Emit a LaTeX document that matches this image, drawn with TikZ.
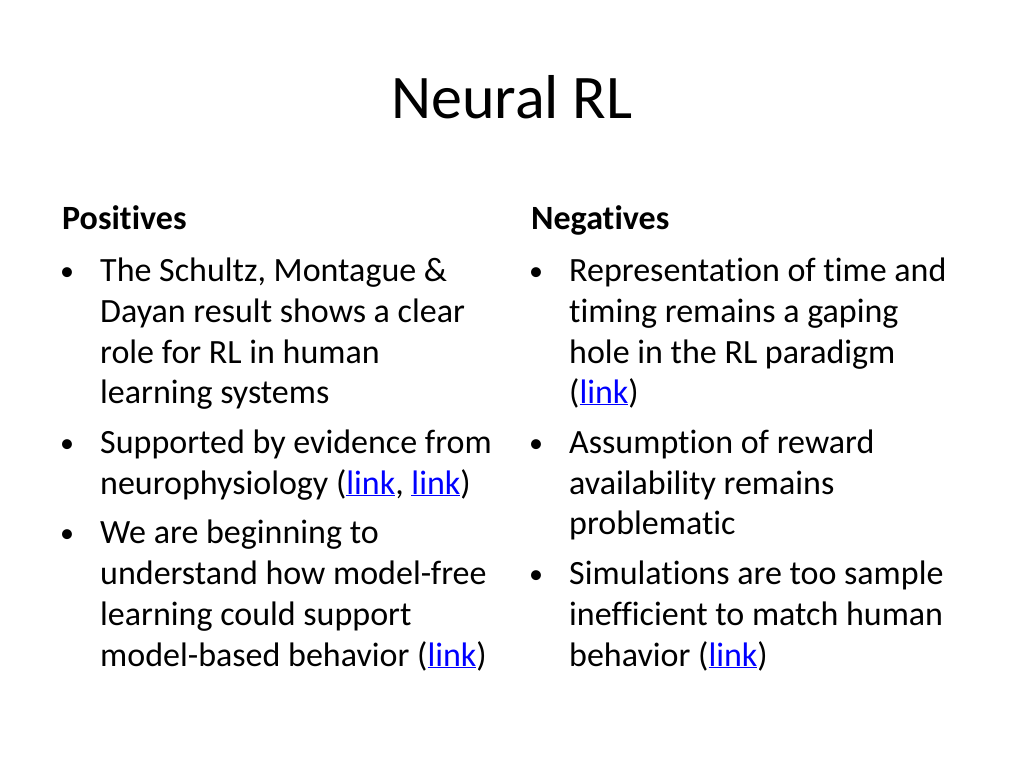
\documentclass[tikz,border=0pt]{standalone}
\usepackage{fontspec}
\setmainfont{Carlito}[RawFeature={-liga}]
\definecolor{linkc}{RGB}{0,0,255}
\newcommand{\lk}{{\color{linkc}\underline{link}}}
\begin{document}
\begin{tikzpicture}[x=1pt,y=-1pt,
  ln/.style={anchor=base west,inner sep=0pt,font=\fontsize{34}{41}\selectfont},
  hd/.style={anchor=base west,inner sep=0pt,font=\fontsize{34}{41}\selectfont\bfseries},
  bl/.style={anchor=base west,inner sep=0pt,font=\fontsize{28}{41}\selectfont}]
\useasboundingbox (0,0) rectangle (1024,768);
\node[anchor=base,inner sep=0pt,font=\fontsize{62}{70}\selectfont] (title) at (512,118) {Neural RL};
\node[hd] (pos) at (62,229) {Positives};
\node[hd] (neg) at (531,229) {Negatives};
% left
\node[bl] (b1) at (60,280) {•};
\node[bl] (b2) at (60,452) {•};
\node[bl] (b3) at (60,542) {•};
\node[ln] (l1) at (100,281) {The Schultz, Montague \&};
\node[ln] (l2) at (100,322) {Dayan result shows a clear};
\node[ln] (l3) at (100,363) {role for RL in human};
\node[ln] (l4) at (100,403) {learning systems};
\node[ln] (l5) at (100,453) {Supported by evidence from};
\node[ln] (l6) at (100,494) {neurophysiology (\lk, \lk)};
\node[ln] (l7) at (100,543) {We are beginning to};
\node[ln] (l8) at (100,584) {understand how model-free};
\node[ln] (l9) at (100,625) {learning could support};
\node[ln] (l10) at (100,666) {model-based behavior (\lk)};
% right
\node[bl] (c1) at (529,280) {•};
\node[bl] (c2) at (529,452) {•};
\node[bl] (c3) at (529,583) {•};
\node[ln] (r1) at (569,281) {Representation of time and};
\node[ln] (r2) at (569,322) {timing remains a gaping};
\node[ln] (r3) at (569,363) {hole in the RL paradigm};
\node[ln] (r4) at (569,403) {(\lk)};
\node[ln] (r5) at (569,453) {Assumption of reward};
\node[ln] (r6) at (569,494) {availability remains};
\node[ln] (r7) at (569,534) {problematic};
\node[ln] (r8) at (569,584) {Simulations are too sample};
\node[ln] (r9) at (569,625) {inefficient to match human};
\node[ln] (r10) at (569,666) {behavior (\lk)};
\end{tikzpicture}
\end{document}
